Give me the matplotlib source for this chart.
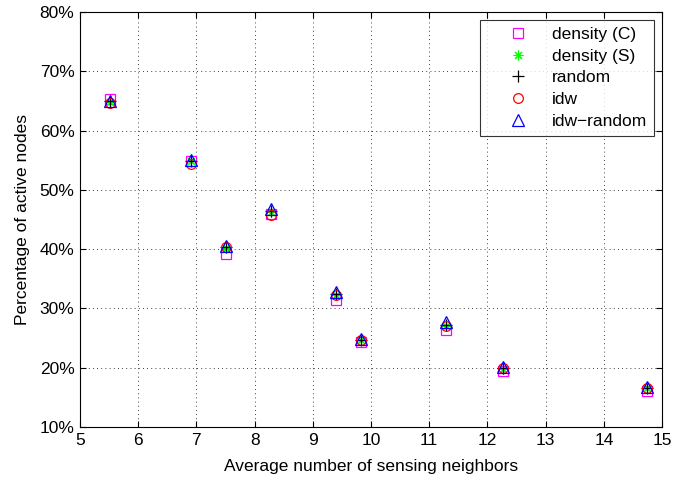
import numpy as np
import matplotlib
matplotlib.use("Agg")
import matplotlib.pyplot as plt
from matplotlib.ticker import FuncFormatter

plt.rcParams['font.family'] = ['Liberation Sans', 'DejaVu Sans']

# average number of sensing neighbors
neighbors = [5.52, 6.91, 7.51, 8.28, 9.39, 9.82, 11.28, 12.27, 14.74]

# percentage of active nodes per method
density_c = [65.3, 54.8, 39.2, 46.0, 31.4, 24.4, 26.4, 19.5, 16.0]
density_s = [64.8, 54.8, 40.2, 46.3, 32.2, 24.7, 27.0, 19.8, 16.5]
random_ = [64.9, 54.9, 40.3, 46.5, 32.5, 24.7, 27.2, 19.9, 16.6]
idw = [64.7, 54.3, 40.3, 45.8, 32.3, 24.7, 27.0, 19.9, 16.6]
idw_random = [65.0, 55.1, 40.6, 46.8, 32.8, 24.9, 27.7, 20.1, 16.8]

labels = ['density (C)', 'density (S)', 'random', 'idw', 'idw\u2212random']

fs = 12.5

fig = plt.figure(figsize=(6.73, 4.79), dpi=100)
ax = fig.add_axes([0.1189, 0.1086, 0.8648, 0.8664])

ms = 7
ax.plot(neighbors, density_c, 's', mfc='none', mec='#ff00ff', ms=ms, mew=0.9, label=labels[0])
ax.plot(neighbors, density_s, marker=(8, 2, 0), ls='none', color='#00ff00', ms=ms, mew=0.8, label=labels[1])
ax.plot(neighbors, random_, '+', color='black', ms=ms + 2, mew=0.9, label=labels[2])
ax.plot(neighbors, idw, 'o', mfc='none', mec='red', ms=ms, mew=0.9, label=labels[3])
ax.plot(neighbors, idw_random, '^', mfc='none', mec='blue', ms=ms + 1, mew=0.9, label=labels[4])

ax.set_xlim(5, 15)
ax.set_ylim(10, 80)
ax.set_xticks(np.arange(5, 16, 1))
ax.set_yticks(np.arange(10, 81, 10))
ax.yaxis.set_major_formatter(FuncFormatter(lambda v, p: f'{int(v)}%'))

ax.grid(True, color='black', linestyle=(0, (1, 4)), linewidth=0.6)
ax.tick_params(direction='in', length=4, labelsize=fs, top=True, right=True, pad=4)
for s in ax.spines.values():
    s.set_linewidth(0.8)

ax.set_xlabel('Average number of sensing neighbors', fontsize=fs, labelpad=8)
ax.set_ylabel('Percentage of active nodes', fontsize=fs, labelpad=7)

leg = ax.legend(loc='upper right', fontsize=fs, frameon=True, fancybox=False,
                edgecolor='black', handlelength=3.6, handletextpad=0.15,
                borderaxespad=0.45, labelspacing=0.38, borderpad=0.4)
leg.get_frame().set_linewidth(0.8)

fig.savefig('out.png', dpi=100)
